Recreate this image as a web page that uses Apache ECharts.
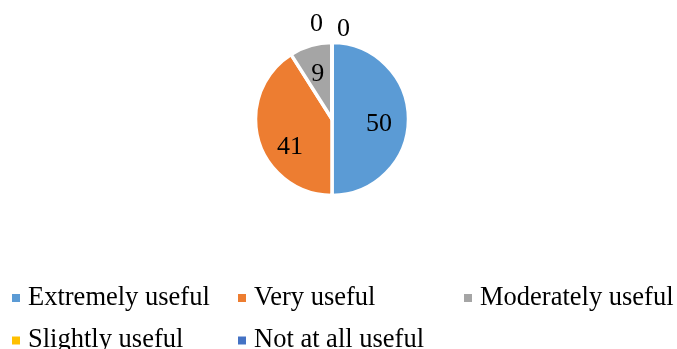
<!DOCTYPE html>
<html>
<head>
<meta charset="utf-8">
<script src="https://cdn.jsdelivr.net/npm/echarts@6/dist/echarts.min.js"></script>
<style>
  html,body{margin:0;padding:0;background:#fff;}
  #main{width:677px;height:349px;}
</style>
</head>
<body>
<div id="main"></div>
<script>
// 数据
const categories = ['Extremely useful', 'Very useful', 'Moderately useful', 'Slightly useful', 'Not at all useful']
const values = [50, 41, 9, 0, 0]
const colors = ['#5B9BD5', '#ED7D31', '#A5A5A5', '#FFC000', '#4472C4']

const font = '"Liberation Serif", "Times New Roman", serif'

// 标签微调（Excel 的标签位置不完全在扇区中线上）
const innerOffsets = [[-4, 5], [7, 14], [0, 4], [0, 0], [0, 0]]
const zeroOffsets = [[-4, -18.5], [23, -13.5]]
let zi = 0
let mainData = categories.map((name, i) => {
  let item = { name: name, value: values[i], itemStyle: { color: colors[i] } }
  if (values[i] === 0) {
    item.label = { show: true, offset: zeroOffsets[zi++] }
  }
  return item
})
let labelData = categories.map((name, i) => ({
  name: name,
  value: values[i],
  label: { show: values[i] !== 0, offset: innerOffsets[i] }
}))

// 图例按列摆放
function legendCol(left, names) {
  return {
    orient: 'vertical',
    left: left,
    top: 283,
    height: 200,
    padding: 0,
    itemWidth: 10,
    itemHeight: 10,
    icon: 'rect',
    itemGap: 12.5,
    selectedMode: false,
    data: names,
    textStyle: { fontFamily: font, fontSize: 26.5, color: '#000', lineHeight: 30, padding: [0, 0, 0, 2] }
  }
}

var myChart = echarts.init(document.getElementById('main'))
option = {
  animation: false,
  legend: [
    legendCol(10, [categories[0], categories[3]]),
    legendCol(236, [categories[1], categories[4]]),
    legendCol(462, [categories[2]])
  ],
  series: [
    {
      type: 'pie',
      center: [332, 119],
      radius: 76.5,
      startAngle: 90,
      avoidLabelOverlap: false,
      itemStyle: { borderColor: '#fff', borderWidth: 3.5 },
      label: {
        show: false,
        position: 'outside',
        formatter: '{c}',
        fontFamily: font,
        fontSize: 26,
        color: '#000'
      },
      labelLine: { show: false, length: 0, length2: 0 },
      emphasis: { disabled: true },
      data: mainData
    },
    {
      // 只用来放内部数值标签
      type: 'pie',
      center: [332, 119],
      radius: 96,
      startAngle: 90,
      silent: true,
      legendHoverLink: false,
      itemStyle: { color: 'rgba(0,0,0,0)' },
      label: {
        position: 'inside',
        formatter: '{c}',
        fontFamily: font,
        fontSize: 26,
        color: '#000'
      },
      labelLine: { show: false },
      emphasis: { disabled: true },
      data: labelData
    }
  ]
}
myChart.setOption(option)
</script>
</body>
</html>
